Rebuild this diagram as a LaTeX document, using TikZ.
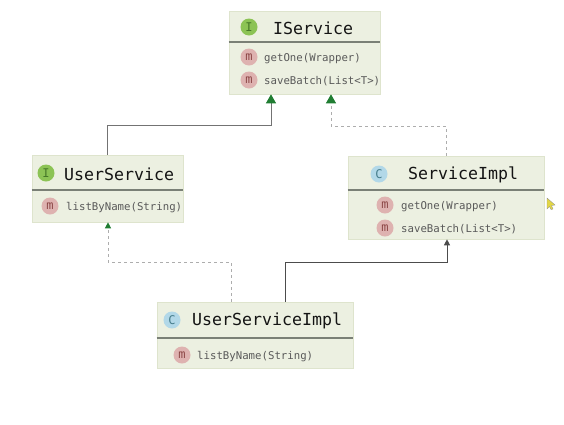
\documentclass[tikz,border=0pt]{standalone}
\usepackage{fontspec}
\setmonofont{DejaVu Sans Mono}
\usetikzlibrary{arrows.meta, positioning, calc}
\definecolor{boxfill}{RGB}{236,240,225}
\definecolor{boxedge}{RGB}{222,228,205}
\definecolor{rule}{RGB}{122,128,118}
\definecolor{ifacefill}{RGB}{140,195,85}
\definecolor{ifacetext}{RGB}{70,120,40}
\definecolor{classfill}{RGB}{178,216,232}
\definecolor{classtext}{RGB}{70,125,140}
\definecolor{methfill}{RGB}{222,178,176}
\definecolor{methtext}{RGB}{140,70,70}
\definecolor{arrowgreen}{RGB}{32,125,50}
\begin{document}
\begin{tikzpicture}[
          x=1pt, y=-1pt,
          box/.style={rectangle, draw=boxedge, fill=boxfill, line width=0.6pt,
                      minimum width=#1, inner sep=0pt},
          divider/.style={draw=rule, line width=1.8pt},
          badge/.style={circle, inner sep=0pt, minimum size=17pt,
                        font=\ttfamily\fontsize{12}{12}\selectfont},
          iface/.style={badge, fill=ifacefill, text=ifacetext},
          cls/.style={badge, fill=classfill, text=classtext},
          meth/.style={badge, fill=methfill, text=methtext},
          title/.style={anchor=west, inner sep=0pt, text=black!92, yshift=-1pt,
                        font=\ttfamily\fontsize{16.6}{16.6}\selectfont},
          method/.style={anchor=west, inner sep=0pt, text=black!65, yshift=-1.5pt,
                         font=\ttfamily\fontsize{10.7}{10.7}\selectfont},
          bigtip/.style={-{Triangle[length=9pt,width=10pt,color=arrowgreen]}},
          smalltip/.style={-{Triangle[length=6pt,width=6pt,color=arrowgreen]}},
          solid line/.style={draw=black!55, line width=1pt},
          dash line/.style={draw=black!32, line width=1pt, dash pattern=on 3pt off 3pt}
        ]
        \useasboundingbox (0,0) rectangle (564,424);
        % boxes
        \node[box=151pt, minimum height=83pt] (iserv) at (304.5,52.5) {};
        \node[box=151pt, minimum height=67pt] (userv) at (107.5,188.5) {};
        \node[box=196pt, minimum height=83pt] (simpl) at (446,197.5) {};
        \node[box=196pt, minimum height=66pt] (uimpl) at (255,335) {};
        \draw[divider] ([yshift=-31pt]iserv.north west) -- ([yshift=-31pt]iserv.north east);
        \draw[divider] ([yshift=-35pt]userv.north west) -- ([yshift=-35pt]userv.north east);
        \draw[divider] ([yshift=-34pt]simpl.north west) -- ([yshift=-34pt]simpl.north east);
        \draw[divider] ([yshift=-36pt]uimpl.north west) -- ([yshift=-36pt]uimpl.north east);
        % IService
        \node[iface] (iservi) at (249,27) {I};
        \node[title] (iservt) at (273,27) {IService};
        \node[meth] (iservm1) at (249,57) {m};
        \node[method] (iservg) at (264,57) {getOne(Wrapper)};
        \node[meth] (iservm2) at (249,80) {m};
        \node[method] (iservs) at (264,80) {saveBatch(List<T>)};
        % UserService
        \node[iface] (uservi) at (46,173) {I};
        \node[title] (uservt) at (64,173) {UserService};
        \node[meth] (uservm) at (50,206) {m};
        \node[method] (uservl) at (66,206) {listByName(String)};
        % ServiceImpl
        \node[cls] (simpli) at (379,174) {C};
        \node[title] (simplt) at (408,174) {ServiceImpl};
        \node[meth] (simplm1) at (385,205) {m};
        \node[method] (simplg) at (401,205) {getOne(Wrapper)};
        \node[meth] (simplm2) at (385,228) {m};
        \node[method] (simpls) at (401,228) {saveBatch(List<T>)};
        % UserServiceImpl
        \node[cls] (uimpli) at (172,320) {C};
        \node[title] (uimplt) at (192,320) {UserServiceImpl};
        \node[meth] (uimplm) at (182,355) {m};
        \node[method] (uimpll) at (197,355) {listByName(String)};
        % connectors
        \draw[solid line, bigtip] (userv.north) |- (271,125) -- ([xshift=-33.5pt]iserv.south);
        \draw[dash line, bigtip] (simpl.north) |- (331,126) -- ([xshift=26.5pt]iserv.south);
        \draw[dash line, smalltip] ([xshift=-24pt]uimpl.north) |- (108,262) -- ([xshift=0.5pt]userv.south);
        \draw[draw=black!70, line width=1pt, -{Triangle[length=6pt,width=6pt]}] ([xshift=30pt]uimpl.north) |- (447,262) -- ([xshift=1pt]simpl.south);
        % cursor
        \fill[fill={rgb,255:red,226;green,214;blue,70}, draw=black!45, line width=0.3pt]
          (547,198) -- (555,205) -- (551.5,205.5) -- (553,209) -- (551,209.5) -- (549.5,206.5) -- (547,209) -- cycle;
      \end{tikzpicture}
\end{document}
